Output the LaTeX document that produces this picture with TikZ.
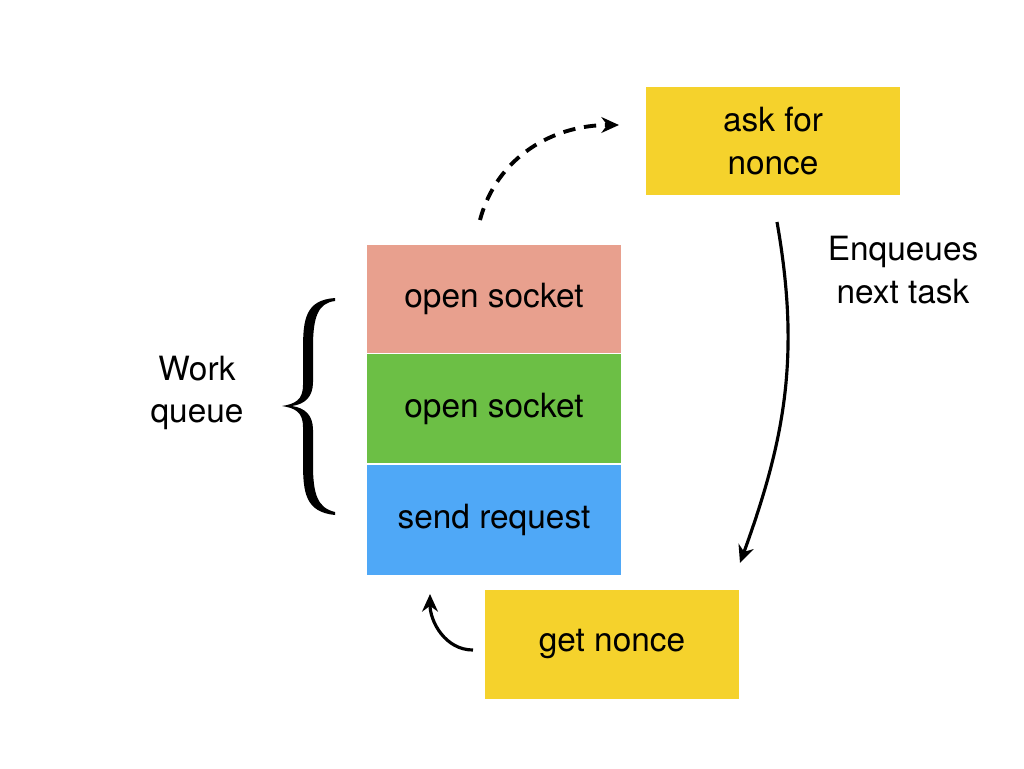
\documentclass[tikz,border=0pt]{standalone}
\usepackage{fontspec}
\setmainfont{TeX Gyre Heros}
\usetikzlibrary{positioning,arrows.meta}
\definecolor{salmon}{HTML}{E8A08E}
\definecolor{leaf}{HTML}{6CBF45}
\definecolor{sky}{HTML}{4FA8F7}
\definecolor{note}{HTML}{F5D22C}
\tikzstyle{task}=[minimum width=5.08cm,minimum height=2.18cm,inner sep=0pt,align=center,font=\fontsize{19}{24}\selectfont]
\tikzstyle{sticky}=[task,fill=note]
\begin{document}
\begin{tikzpicture}[x=0.02cm,y=-0.02cm,>={Stealth[length=10pt,width=9pt]},thick]
  \useasboundingbox (0,0) rectangle (1024,768);
  \node[task,fill=salmon,minimum height=2.16cm](s1) at (494,299){open socket};
  \node[task,fill=leaf,minimum height=2.18cm,below=0pt of s1](s2){open socket};
  \node[task,fill=sky,minimum height=2.2cm,below=0pt of s2](s3){send request};
  \node[sticky](ask) at (773,141){ask for\\nonce};
  \node[sticky](get) at (612,644){get nonce};
  \node[task,minimum width=0pt,minimum height=0pt](wq) at (197,393){Work\\queue};
  \node[task,minimum width=0pt,minimum height=0pt](enq) at (903,270){Enqueues\\next task};
  % brace
  \fill (335,298) .. controls (305,300) and (303,320) .. (303,350) -- (303,385)
    .. controls (303,400) and (295,404) .. (282,406) .. controls (295,408) and (303,412) .. (303,427)
    -- (303,462) .. controls (303,492) and (305,512) .. (335,515)
    -- (335,512) .. controls (318,508) and (313,495) .. (313,465) -- (313,430)
    .. controls (313,415) and (305,408) .. (292,406) .. controls (305,404) and (313,397) .. (313,382)
    -- (313,347) .. controls (313,317) and (318,303) .. (335,301) -- cycle;
  \coordinate (d0) at (480,220);
  \coordinate (e0) at (777,222);
  \coordinate (e1) at (740,563);
  \coordinate (g0) at (473,650);
  \coordinate (g1) at (430,594);
  \draw[->,line width=2.2pt,dash pattern=on 7pt off 5pt] (d0) to[out=75,in=180] ([xshift=-15]ask.west|-0,125);
  \draw[->,line width=1.8pt] (e0) to[out=-80,in=70] (e1);
  \draw[->,line width=1.8pt] (g0) to[out=180,in=-90] (g1);
\end{tikzpicture}
\end{document}
